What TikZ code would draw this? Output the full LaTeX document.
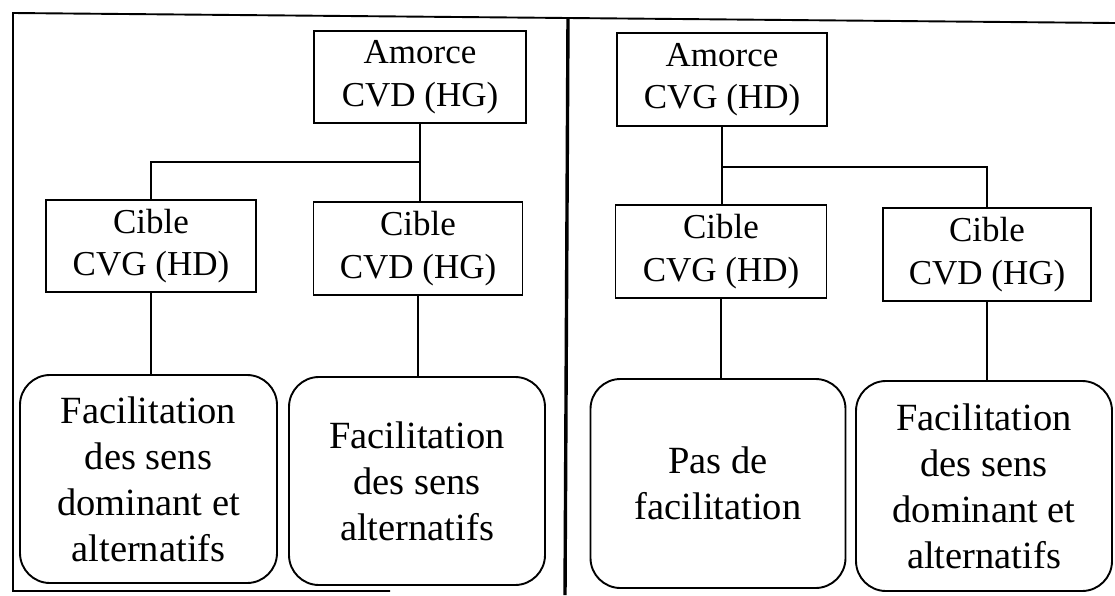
\documentclass[tikz,border=0pt]{standalone}
\usepackage{fontspec}
\setmainfont{Liberation Serif}
\begin{document}
\begin{tikzpicture}[x=1pt,y=-1pt,
  sqbox/.style={draw, line width=1.9pt, inner sep=0pt, align=center,
    font=\fontsize{35}{42.5}\selectfont},
  rbox/.style={draw, line width=1.9pt, inner sep=0pt, align=center,
    rounded corners=30pt, font=\fontsize{38.5}{46}\selectfont},
  conn/.style={line width=1.7pt},
  frame/.style={line width=1.9pt},
  divider/.style={line width=3.4pt}]
\useasboundingbox (0,0) rectangle (1115,595);

% frame
\coordinate (TL) at (13,13);
\coordinate (TM) at (568,18);
\coordinate (TR) at (1115,23);
\coordinate (BL) at (13,591);
\coordinate (BE) at (390,591);
\coordinate (DB) at (565,595);
\draw[frame] (TR) -- (TM) -- (TL) -- (BL) -- (BE);
\draw[divider] (TM) -- (DB);

% left panel
\node[sqbox, minimum width=212pt, minimum height=92pt] (A1) at (420,77) {Amorce\\CVD (HG)};
\node[sqbox, minimum width=210pt, minimum height=92pt] (C1) at (151,246) {Cible\\CVG (HD)};
\node[sqbox, minimum width=209pt, minimum height=93pt] (C2) at (418,248.5) {Cible\\CVD (HG)};
\node[rbox, minimum width=257pt, minimum height=208pt] (R1) at (148.5,479) {Facilitation\\des sens\\dominant et\\alternatifs};
\node[rbox, minimum width=256pt, minimum height=208pt] (R2) at (417,481) {Facilitation\\des sens\\alternatifs};

\coordinate (J1) at (420,162);
\draw[conn] (A1.south) -- (J1);
\draw[conn] (J1) -| (C1.north);
\draw[conn] (J1) -- (J1 |- C2.north);
\draw[conn] (C1.south) -- (C1.south |- R1.north);
\draw[conn] (C2.south) -- (C2.south |- R2.north);

% right panel
\node[sqbox, minimum width=210pt, minimum height=93pt] (A2) at (722,79.5) {Amorce\\CVG (HD)};
\node[sqbox, minimum width=211pt, minimum height=93pt] (C3) at (721,251.5) {Cible\\CVG (HD)};
\node[sqbox, minimum width=208pt, minimum height=93pt] (C4) at (987,254.5) {Cible\\CVD (HG)};
\node[rbox, minimum width=255pt, minimum height=209pt] (R3) at (718,483.5) {Pas de\\facilitation};
\node[rbox, minimum width=256pt, minimum height=210pt] (R4) at (984,486) {Facilitation\\des sens\\dominant et\\alternatifs};

\coordinate (J2) at (722,167);
\draw[conn] (A2.south) -- (J2);
\draw[conn] (J2) -| (C4.north);
\draw[conn] (J2) -- (J2 |- C3.north);
\draw[conn] (C3.south) -- (C3.south |- R3.north);
\draw[conn] (C4.south) -- (C4.south |- R4.north);
\end{tikzpicture}
\end{document}
